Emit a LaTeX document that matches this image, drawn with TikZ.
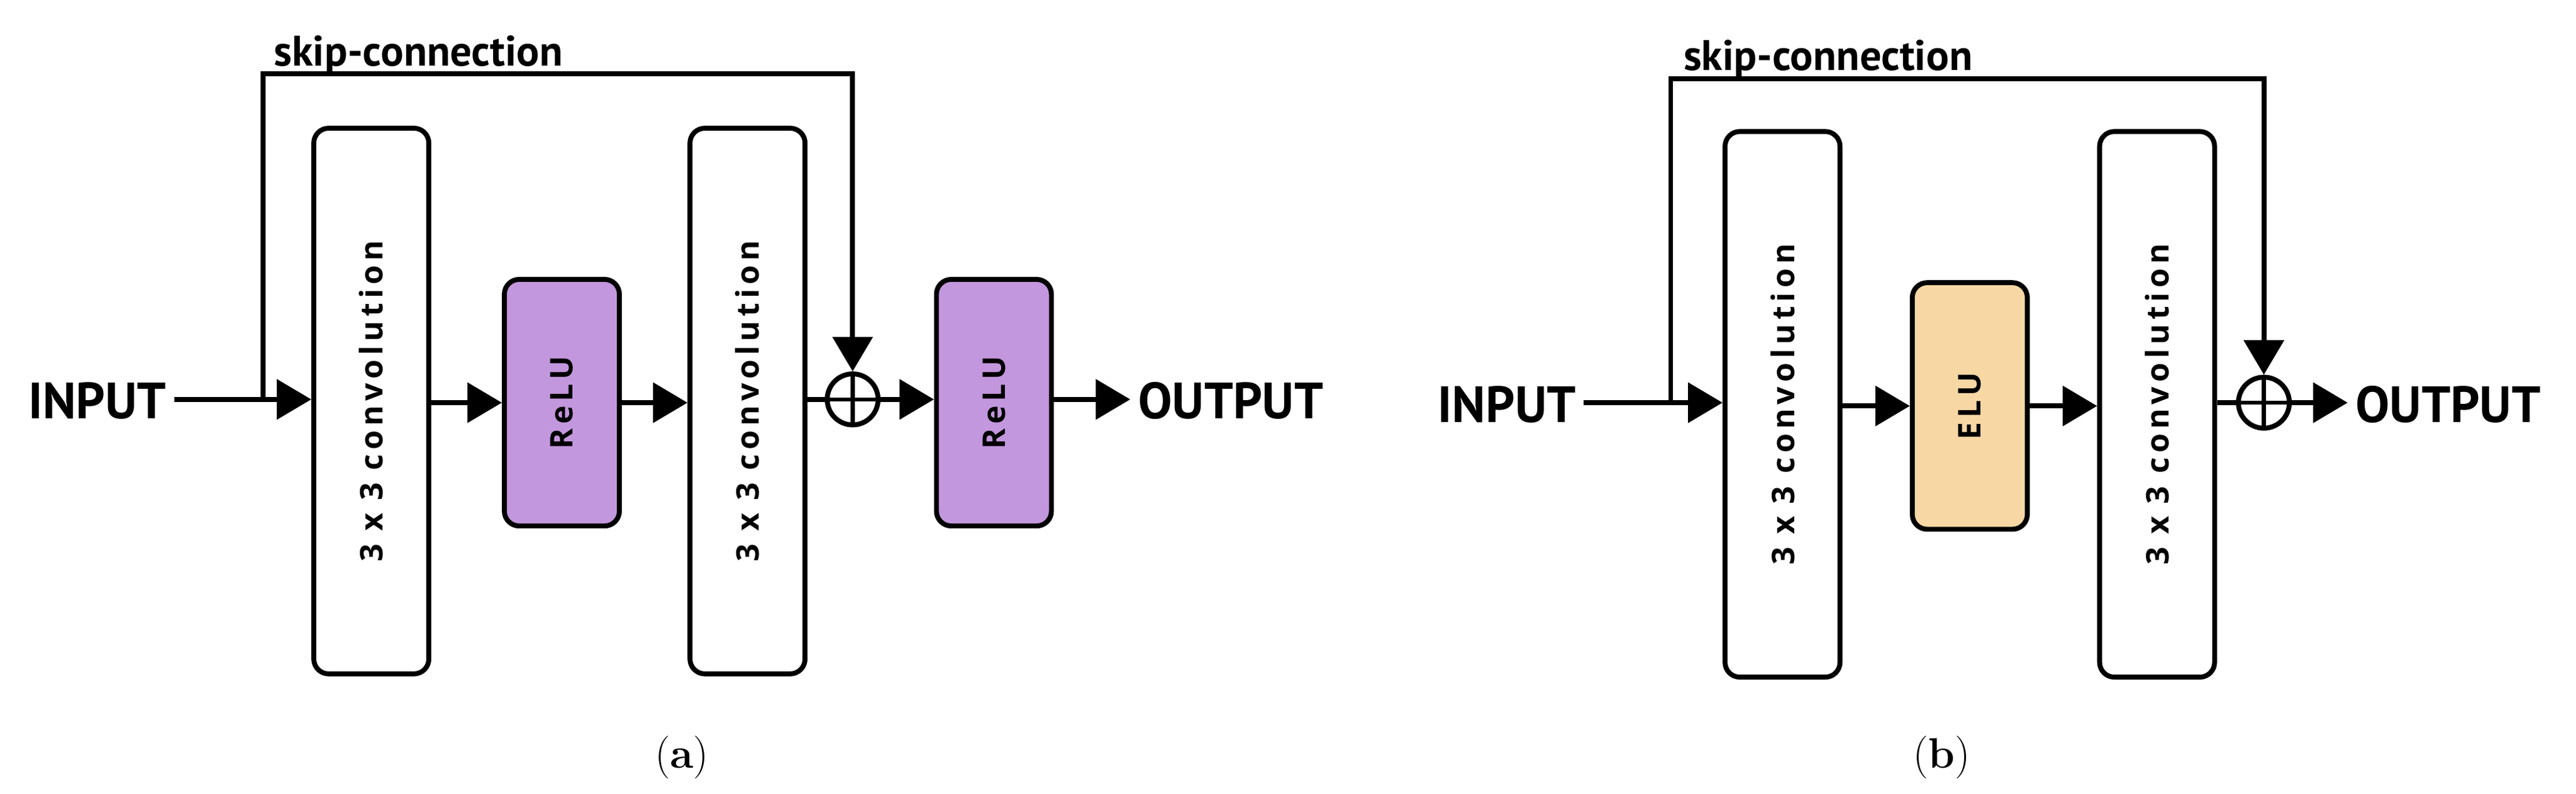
\documentclass[tikz,border=0pt]{standalone}
\usepackage{fontspec}
\newfontfamily\ptsans{PT Sans}
\newfontfamily\boxsans[LetterSpace=14]{Open Sans}
\usetikzlibrary{arrows.meta}
\definecolor{relu}{HTML}{C397DD}
\definecolor{elu}{HTML}{F7D8A5}
\begin{document}
\begin{tikzpicture}[x=1pt,y=-1pt,line width=3pt,
  box/.style={draw,rounded corners=9pt,fill=white,inner sep=0pt},
  conv/.style={box,minimum width=70pt,minimum height=332pt},
  act/.style={box,minimum width=70pt,minimum height=150pt},
  rt/.style={font=\boxsans\bfseries\fontsize{19}{22}\selectfont,rotate=90},
  lab/.style={font=\ptsans\bfseries\fontsize{31}{34}\selectfont},
  skl/.style={font=\ptsans\bfseries\fontsize{26}{28}\selectfont},
  sum/.style={draw,circle,minimum size=31pt,inner sep=0pt,path picture={
    \draw[line width=2.5pt] (path picture bounding box.north) -- (path picture bounding box.south)
    (path picture bounding box.west) -- (path picture bounding box.east);}},
  arr/.style={-{Triangle[length=21pt,width=24pt]}},
  capt/.style={font=\fontsize{26}{28}\selectfont}]
\useasboundingbox (0,0) rectangle (1568,483);
% (a)
\node[lab,anchor=east] (inA) at (106,244) {INPUT};
\node[conv] (c1a) at (226,244) {};
\node[rt] at (c1a) {3 x 3 convolution};
\node[act,fill=relu] (r1a) at (342,245) {};
\node[rt] at (r1a) {ReLU};
\node[conv] (c2a) at (455,244) {};
\node[rt] at (c2a) {3 x 3 convolution};
\node[sum] (sa) at (519,243) {};
\node[act,fill=relu] (r2a) at (605,245) {};
\node[rt] at (r2a) {ReLU};
\node[lab,anchor=west] (outA) at (688,244) {OUTPUT};
\coordinate (ja) at (160,243);
\draw[arr] (inA.east |- ja) -- (c1a.west |- ja);
\draw[arr] (ja) -- (160,45) -- (519,45) -- (sa.north);
\draw[arr] (c1a.east |- r1a) -- (r1a.west);
\draw[arr] (r1a.east) -- (c2a.west |- r1a);
\draw (c2a.east |- sa) -- (sa.west);
\draw[arr] (sa.east) -- (r2a.west |- sa);
\draw[arr] (r2a.east |- sa) -- (outA.west |- sa);
\node[skl,anchor=south west] (ska) at (162,50) {skip-connection};
\node[capt] (la) at (415,461) {(\textbf{a})};
% (b)
\node[lab,anchor=east] (inB) at (964,246) {INPUT};
\node[conv] (c1b) at (1085,246) {};
\node[rt] at (c1b) {3 x 3 convolution};
\node[act,fill=elu] (eb) at (1199,247) {};
\node[rt] at (eb) {ELU};
\node[conv] (c2b) at (1313,246) {};
\node[rt] at (c2b) {3 x 3 convolution};
\node[sum] (sb) at (1378,245) {};
\node[lab,anchor=west] (outB) at (1429,246) {OUTPUT};
\coordinate (jb) at (1017,245);
\draw[arr] (inB.east |- jb) -- (c1b.west |- jb);
\draw[arr] (jb) -- (1017,48) -- (1378,48) -- (sb.north);
\draw[arr] (c1b.east |- eb) -- (eb.west);
\draw[arr] (eb.east) -- (c2b.west |- eb);
\draw (c2b.east |- sb) -- (sb.west);
\draw[arr] (sb.east) -- (outB.west |- sb);
\node[skl,anchor=south west] (skb) at (1020,53) {skip-connection};
\node[capt] (lb) at (1182,461) {(\textbf{b})};
\end{tikzpicture}
\end{document}
